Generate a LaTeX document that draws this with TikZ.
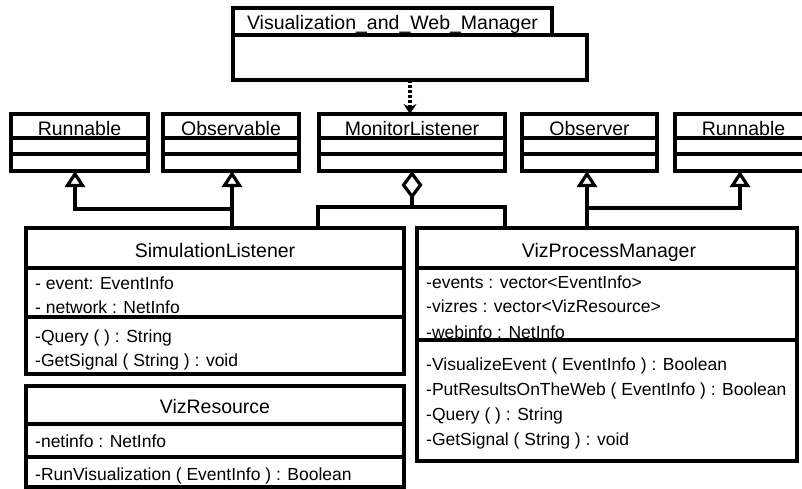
\documentclass[tikz,border=0pt]{standalone}
\usepackage{fontspec}
\setmainfont{Liberation Sans}
\usetikzlibrary{arrows.meta}
\begin{document}
\begin{tikzpicture}[x=1pt,y=-1pt,
  umlbox/.style={draw, line width=3.2pt, inner sep=0pt, outer sep=0pt, anchor=north west},
  divider/.style={line width=3.2pt},
  ctitle/.style={anchor=base, inner sep=0pt, font=\fontsize{19.5}{22}\selectfont},
  member/.style={anchor=base west, inner sep=0pt, font=\fontsize{17.5}{20}\selectfont},
  link/.style={line width=3.2pt},
  inherit/.style={link, -{Triangle[open, length=16pt, width=20pt]}},
  aggr/.style={link, {Diamond[open, length=28pt, width=21pt]}-},
  dep/.style={line width=3.2pt, dash pattern=on 3pt off 2pt, -{Stealth[length=10pt, width=13pt]}}
]
\useasboundingbox (0,0) rectangle (802,488);

% ---- top class ----
\node[umlbox, minimum width=319pt, minimum height=27pt] (vwmt) at (233,8) {};
\node[umlbox, minimum width=354pt, minimum height=45pt] (vwmb) at (233,35) {};
\node[ctitle] (vwmtext) at (392.5,29) {Visualization\_and\_Web\_Manager};

% ---- interface row ----
\node[umlbox, minimum width=137pt, minimum height=57pt] (runA) at (11,114) {};
\node[umlbox, minimum width=136pt, minimum height=57pt] (obs) at (163,114) {};
\node[umlbox, minimum width=186pt, minimum height=57pt] (ml) at (319,114) {};
\node[umlbox, minimum width=135pt, minimum height=57pt] (obv) at (522,114) {};
\node[umlbox, minimum width=135pt, minimum height=57pt] (runB) at (675,114) {};
\foreach \b in {runA,obs,ml,obv,runB}{
  \draw[divider] (\b.west |- 0,138) -- (\b.east |- 0,138);
  \draw[divider] (\b.west |- 0,154) -- (\b.east |- 0,154);
}
\node[ctitle] (runAt) at (79.5,135) {Runnable};
\node[ctitle] (obst) at (231,135) {Observable};
\node[ctitle] (mlt) at (412,135) {MonitorListener};
\node[ctitle] (obvt) at (589.5,135) {Observer};
\node[ctitle] (runBt) at (743.5,135) {Runnable};

% ---- SimulationListener ----
\node[umlbox, minimum width=378pt, minimum height=146pt] (sl) at (26,228) {};
\draw[divider] (sl.west |- 0,268) -- (sl.east |- 0,268);
\draw[divider] (sl.west |- 0,317) -- (sl.east |- 0,317);
\node[ctitle] (slt) at (215,257) {SimulationListener};
\node[member] (sl1) at (35,289) {- event: EventInfo};
\node[member] (sl2) at (35,313) {- network : NetInfo};
\node[member] (sl3) at (35,342) {-Query ( ) : String};
\node[member] (sl4) at (35,366) {-GetSignal ( String ) : void};

% ---- VizResource ----
\node[umlbox, minimum width=378pt, minimum height=101pt] (vr) at (26,386) {};
\draw[divider] (vr.west |- 0,424) -- (vr.east |- 0,424);
\draw[divider] (vr.west |- 0,457) -- (vr.east |- 0,457);
\node[ctitle] (vrt) at (215,413) {VizResource};
\node[member] (vr1) at (35,447) {-netinfo : NetInfo};
\node[member] (vr2) at (35,480) {-RunVisualization ( EventInfo ) : Boolean};

% ---- VizProcessManager ----
\node[umlbox, minimum width=380pt, minimum height=233pt] (vpm) at (417,228) {};
\draw[divider] (vpm.west |- 0,268) -- (vpm.east |- 0,268);
\draw[divider] (vpm.west |- 0,340) -- (vpm.east |- 0,340);
\node[ctitle] (vpmt) at (609,257) {VizProcessManager};
\node[member] (vpm1) at (426,288) {-events : vector<EventInfo>};
\node[member] (vpm2) at (426,312) {-vizres : vector<VizResource>};
\node[member] (vpm3) at (426,338) {-webinfo : NetInfo};
\node[member] (vpm4) at (426,370) {-VisualizeEvent ( EventInfo ) :  Boolean};
\node[member] (vpm5) at (426,395) {-PutResultsOnTheWeb ( EventInfo ) : Boolean};
\node[member] (vpm6) at (426,420) {-Query ( ) : String};
\node[member] (vpm7) at (426,445) {-GetSignal ( String ) : void};

% ---- connectors ----
\draw[dep] (vwmb.south -| 410,0) -- (ml.north -| 410,0);

\coordinate (obsJ) at (232,209);
\draw[inherit] (sl.north -| obsJ) -- (obs.south -| obsJ);
\draw[inherit] (obsJ) -| (runA.south -| 75,0);

\coordinate (aggJ) at (412,207);
\draw[link] (sl.north -| 318,0) |- (aggJ) -| (vpm.north -| 505,0);
\draw[aggr] (ml.south -| aggJ) -- (aggJ);

\coordinate (obvJ) at (587,208);
\draw[inherit] (vpm.north -| obvJ) -- (obv.south -| obvJ);
\draw[inherit] (obvJ) -| (runB.south -| 740,0);
\end{tikzpicture}
\end{document}
